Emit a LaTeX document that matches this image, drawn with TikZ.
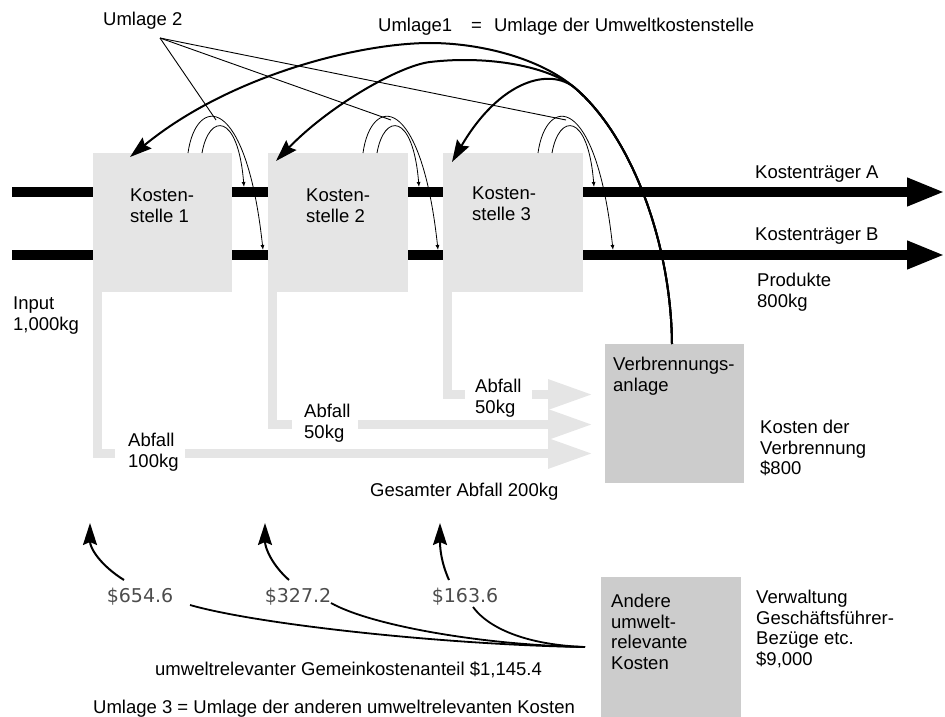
\documentclass[tikz,border=0pt]{standalone}
\usepackage{fontspec}
\setmainfont{Liberation Sans}
\newfontfamily\numfont{DejaVu Sans}
\usetikzlibrary{arrows.meta,calc}
\definecolor{lightbox}{gray}{0.9}
\definecolor{darkbox}{gray}{0.8}
\definecolor{numgray}{gray}{0.3}
\begin{document}
\begin{tikzpicture}[x=1pt,y=-1pt,
  txt/.style={inner sep=0pt, anchor=north west, align=left, font=\fontsize{18.5}{20.5}\selectfont},
  stxt/.style={inner sep=0pt, anchor=base west, font=\fontsize{18.5}{20.5}\selectfont},
  lbox/.style={fill=lightbox, draw=none, inner sep=0pt, anchor=north west},
  dbox/.style={fill=darkbox, draw=none, inner sep=0pt, anchor=north west},
  carrier/.style={line width=10pt, -{Triangle[length=38pt,width=26pt]}},
  wasteflow/.style={line width=9pt, draw=lightbox, line join=miter},
  wastearrow/.style={line width=9pt, draw=lightbox, -{Triangle[length=45pt,width=28pt]}},
  loopline/.style={line width=0.8pt, -{Latex[length=5pt,width=4pt]}},
  pointer/.style={line width=0.9pt},
  alloc/.style={line width=2pt, -{Stealth[length=22pt,width=14pt,inset=3pt]}},
  share/.style={line width=1.8pt},
  dollar/.style={inner sep=0pt, anchor=base, font=\numfont\fontsize{19}{22}\selectfont, text=numgray},
]
\useasboundingbox (0,0) rectangle (945,717);

% cost carrier lines
\coordinate (inA) at (12,192);  \coordinate (outA) at (945,192);
\coordinate (inB) at (12,255);  \coordinate (outB) at (945,255);
\draw[carrier] (inA) -- (outA);
\draw[carrier] (inB) -- (outB);

% cost centre boxes
\node[lbox, minimum width=139pt, minimum height=139pt] (k1) at (93,153) {};
\node[lbox, minimum width=140pt, minimum height=139pt] (k2) at (268,153) {};
\node[lbox, minimum width=140pt, minimum height=139pt] (k3) at (443,153) {};
\node[dbox, minimum width=139pt, minimum height=139pt] (vb) at (605,344) {};
\node[dbox, minimum width=140pt, minimum height=140pt] (ak) at (601,577) {};

% waste flows
\coordinate (w1s) at (97.5,290);  \coordinate (w1c) at (97.5,453.5);
\coordinate (w1g) at (115,453.5); \coordinate (w1r) at (185,453.5); \coordinate (w1e) at (593,453.5);
\coordinate (w2s) at (272.5,290); \coordinate (w2c) at (272.5,424.5);
\coordinate (w2g) at (292,424.5); \coordinate (w2r) at (358,424.5); \coordinate (w2e) at (593,424.5);
\coordinate (w3s) at (447.5,290); \coordinate (w3c) at (447.5,394.5);
\coordinate (w3g) at (465,394.5); \coordinate (w3r) at (532,394.5); \coordinate (w3e) at (593,394.5);
\draw[wasteflow] (w1s) -- (w1c) -- (w1g);
\draw[wastearrow] (w1r) -- (w1e);
\draw[wasteflow] (w2s) -- (w2c) -- (w2g);
\draw[wastearrow] (w2r) -- (w2e);
\draw[wasteflow] (w3s) -- (w3c) -- (w3g);
\draw[wastearrow] (w3r) -- (w3e);

% Umlage 2 loops
\coordinate (u2src) at (160,38);
\foreach \b/\d in {1/0,2/175,3/350}{
  \coordinate (lo\b) at (188+\d,153);
  \coordinate (li\b) at (202+\d,153);
  \coordinate (ei\b) at (244+\d,187);
  \coordinate (eo\b) at (263+\d,250);
  \coordinate (ap\b) at (216+\d,120);
  \draw[loopline] (li\b) .. controls (209+\d,113) and (238+\d,112) .. (ei\b);
  \draw[loopline] (lo\b) .. controls (196+\d,95) and (246+\d,92) .. (eo\b);
  \draw[pointer] (u2src) -- (ap\b);
}

% Umlage 1 curves
\coordinate (vbtop) at (672,344);
\coordinate (J) at (575,88);
\coordinate (tip1) at (130,157);
\coordinate (tip2) at (276,161);
\coordinate (tip3) at (452,162);
\draw[alloc] (vbtop) .. controls (671,240) and (630,135) .. (J)
  .. controls (540,58) and (480,43) .. (430,43)
  .. controls (360,43) and (230,75) .. (tip1);
\draw[alloc] (vbtop) .. controls (671,240) and (630,135) .. (J)
  .. controls (550,67) and (490,55) .. (430,62)
  .. controls (400,65.5) and (330,105) .. (tip2);
\draw[alloc] (vbtop) .. controls (671,240) and (630,135) .. (J)
  .. controls (550,67) and (500,80) .. (tip3);

% dollar labels
\node[dollar] (d1) at (140,602) {\$654.6};
\node[dollar] (d2) at (298,602) {\$327.2};
\node[dollar] (d3) at (465,602) {\$163.6};

% Umlage 3 arrows
\coordinate (s1) at (124,580); \coordinate (e1) at (90,523);
\coordinate (s2) at (289,580); \coordinate (e2) at (265,523);
\coordinate (s3) at (449,580); \coordinate (e3) at (440,523);
\draw[alloc] (s1) .. controls (100,565) and (90,548) .. (e1);
\draw[alloc] (s2) .. controls (272,565) and (265,548) .. (e2);
\draw[alloc] (s3) .. controls (441,562) and (440,548) .. (e3);

% shares from other costs
\coordinate (akj) at (585,647);
\coordinate (f1) at (190,605);
\coordinate (f2) at (331,603);
\coordinate (f3) at (473,607);
\draw[share] (akj) .. controls (450,645) and (260,625) .. (f1);
\draw[share] (akj) .. controls (480,645) and (370,625) .. (f2);
\draw[share] (akj) .. controls (530,645) and (490,630) .. (f3);

% texts
\node[stxt] (lu2) at (103,26) {Umlage 2};
\node[stxt] (lu1) at (378,32) {Umlage1\hspace{19pt}=\hspace{12pt}Umlage der Umweltkostenstelle};
\node[txt] (t1) at (130,189) {Kosten-\\stelle 1};
\node[txt] (t2) at (306,189) {Kosten-\\stelle 2};
\node[txt] (t3) at (472,187) {Kosten-\\stelle 3};
\node[stxt] (lka) at (755,178) {Kostenträger A};
\node[stxt] (lkb) at (755,240) {Kostenträger B};
\node[txt] (lprod) at (757,273) {Produkte\\800kg};
\node[txt] (linp) at (13,297) {Input\\1,000kg};
\node[txt] (la1) at (128,433) {Abfall\\100kg};
\node[txt] (la2) at (304,404) {Abfall\\50kg};
\node[txt] (la3) at (475,379) {Abfall\\50kg};
\node[txt] (lvb) at (613,357) {Verbrennungs-\\anlage};
\node[txt] (lkv) at (760,420) {Kosten der\\Verbrennung\\\$800};
\node[stxt] (lges) at (370,496) {Gesamter Abfall 200kg};
\node[txt] (lak) at (611,594) {Andere\\umwelt-\\relevante\\Kosten};
\node[txt] (lverw) at (756,590) {Verwaltung\\Geschäftsführer-\\Bezüge etc.\\\$9,000};
\node[stxt] (lgem) at (155,675) {umweltrelevanter Gemeinkostenanteil \$1,145.4};
\node[stxt] (lu3) at (93,713) {Umlage 3 = Umlage der anderen umweltrelevanten Kosten};
\end{tikzpicture}
\end{document}
